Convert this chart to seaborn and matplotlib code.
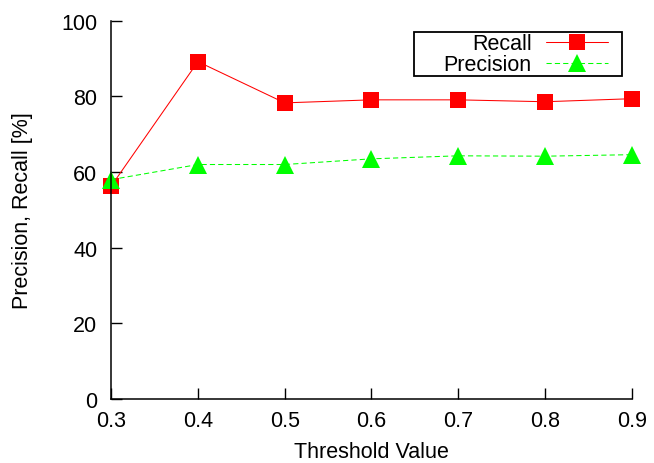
import matplotlib
matplotlib.use("Agg")
import matplotlib.pyplot as plt
from matplotlib.patches import Rectangle
import seaborn as sns
import pandas as pd

# data
thresholds = [0.3, 0.4, 0.5, 0.6, 0.7, 0.8, 0.9]
recall = [56.3, 89.2, 78.3, 79.1, 79.1, 78.6, 79.4]
precision = [58.0, 62.0, 62.0, 63.5, 64.3, 64.2, 64.6]

sns.set_theme(style="ticks")
plt.rcParams["font.family"] = ["Liberation Sans", "DejaVu Sans"]
plt.rcParams["text.color"] = "black"
plt.rcParams["axes.labelcolor"] = "black"

df = pd.DataFrame({"threshold": thresholds, "Recall": recall, "Precision": precision})

fig = plt.figure(figsize=(6.54, 4.64), dpi=100)
ax = fig.add_axes([0.170, 0.138, 0.796, 0.815])

sns.lineplot(data=df, x="threshold", y="Recall", ax=ax, color="#ff0000",
             marker="s", markersize=11.5, markeredgewidth=0, linewidth=0.75,
             label="Recall", clip_on=False)
sns.lineplot(data=df, x="threshold", y="Precision", ax=ax, color="#00ff00",
             marker="^", markersize=13, markeredgewidth=0, linewidth=0.75,
             linestyle=(0, (5, 3)), label="Precision", clip_on=False)

ax.set_xlim(0.3, 0.9)
ax.set_ylim(0, 100)
ax.set_xticks(thresholds)
ax.set_xticklabels([f"{t:.1f}" for t in thresholds])
ax.set_yticks([0, 20, 40, 60, 80, 100])
ax.tick_params(direction="in", length=8, width=1, labelsize=15.5, colors="black")
ax.tick_params(axis="x", pad=8)
ax.tick_params(axis="y", pad=10)
for side in ["top", "right"]:
    ax.spines[side].set_visible(False)
for side in ["left", "bottom"]:
    ax.spines[side].set_linewidth(1.1)
    ax.spines[side].set_color("black")

ax.set_xlabel("Threshold Value", fontsize=15.5, labelpad=7)
ax.set_ylabel("Precision, Recall [%]", fontsize=15.5, labelpad=20)

# legend without its own frame; gnuplot-style box drawn around it below
leg = ax.legend(loc="upper right", bbox_to_anchor=(0.930, 0.926),
                bbox_transform=fig.transFigure, markerfirst=False,
                fontsize=15.5, handlelength=2.9, labelspacing=0.0,
                borderpad=0.0, handletextpad=0.65, frameon=False,
                borderaxespad=0)
for h, c, ms in zip(leg.get_lines(), ["#ff0000", "#00ff00"], [11.5, 13]):
    h.set_color(c)
    h.set_markersize(ms)

fig.canvas.draw()
bb = leg.get_window_extent().transformed(fig.transFigure.inverted())
pad_l, pad_r, pad_v = 30 / 654, 14 / 654, 1 / 464
fig.patches.append(Rectangle((bb.x0 - pad_l, bb.y0 - pad_v),
                             bb.width + pad_l + pad_r, bb.height + 2 * pad_v,
                             transform=fig.transFigure, fill=False,
                             edgecolor="black", linewidth=1.3, zorder=5))

fig.savefig("out.png", dpi=100)
